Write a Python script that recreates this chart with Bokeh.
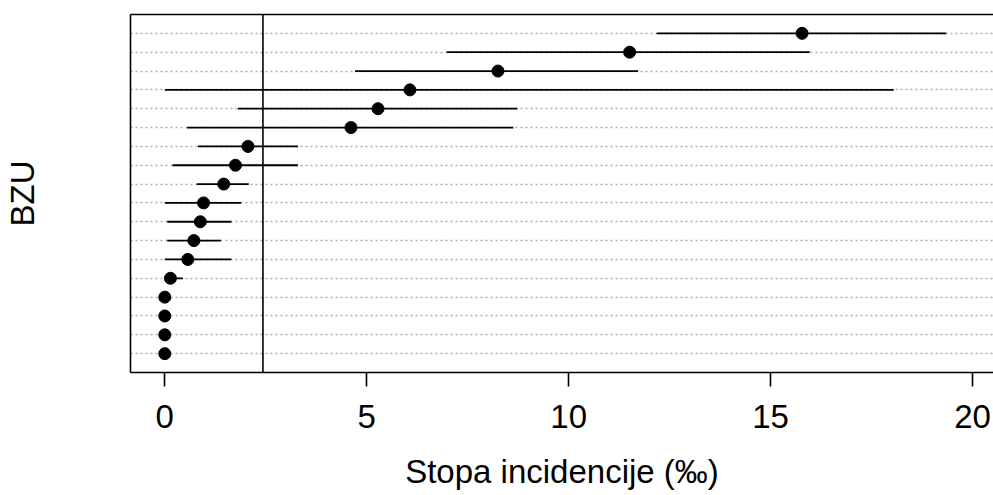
from bokeh.plotting import figure
from bokeh.models import Range1d, FixedTicker, LinearAxis, Span, ColumnDataSource
from bokeh.embed import file_html
from bokeh.resources import INLINE

# Incidence rate per BZU (per mille) with confidence limits, listed top to bottom
rate = [15.78, 11.51, 8.25, 6.07, 5.28, 4.61, 2.06, 1.75, 1.46,
        0.96, 0.88, 0.72, 0.57, 0.14, 0.0, 0.0, 0.0, 0.0]
ci_low = [12.18, 6.98, 4.71, 0.0, 1.81, 0.55, 0.82, 0.19, 0.79,
          0.0, 0.06, 0.06, 0.0, 0.0, 0.0, 0.0, 0.0, 0.0]
ci_high = [19.35, 15.97, 11.72, 18.05, 8.73, 8.63, 3.30, 3.30, 2.08,
           1.89, 1.65, 1.39, 1.65, 0.45, 0.0, 0.0, 0.0, 0.0]
overall_rate = 2.43
x_ticks = [0, 5, 10, 15, 20]

n = len(rate)
row_pos = [n - i for i in range(n)]

src = ColumnDataSource(dict(y=row_pos, rate=rate, lo=ci_low, hi=ci_high))

FONT = "Liberation Sans"
FS = "33px"

p = figure(width=993, height=495,
           x_range=Range1d(-0.849, 20.52), y_range=Range1d(0, n + 1),
           output_backend="svg", toolbar_location=None,
           min_border_left=130, min_border_right=0,
           min_border_top=14, min_border_bottom=123,
           x_axis_location=None, y_axis_location=None)
p.outline_line_color = None
p.background_fill_color = "white"
p.border_fill_color = "white"

# bottom axis (also the lower frame edge)
xa = LinearAxis(ticker=FixedTicker(ticks=x_ticks),
                axis_label="Stopa incidencije (‰)")
xa.axis_line_color = "black"
xa.axis_line_width = 1.6
xa.major_tick_out = 14
xa.major_tick_in = 0
xa.major_tick_line_width = 1.6
xa.minor_tick_out = 0
xa.minor_tick_in = 0
xa.major_label_standoff = 18
xa.major_label_text_font = FONT
xa.major_label_text_font_size = FS
xa.major_label_text_color = "black"
xa.axis_label_standoff = 22
xa.axis_label_text_font = FONT
xa.axis_label_text_font_size = FS
xa.axis_label_text_font_style = "normal"
xa.axis_label_text_color = "black"
p.add_layout(xa, "below")

# left axis: only the frame edge and the "BZU" title
ya = LinearAxis(ticker=FixedTicker(ticks=row_pos), axis_label="BZU")
ya.axis_line_color = "black"
ya.axis_line_width = 1.6
ya.major_tick_line_color = None
ya.minor_tick_line_color = None
ya.major_label_text_font_size = "0px"
ya.major_label_text_color = None
ya.axis_label_standoff = 84
ya.axis_label_text_font = FONT
ya.axis_label_text_font_size = FS
ya.axis_label_text_font_style = "normal"
ya.axis_label_text_color = "black"
p.add_layout(ya, "left")

# top frame edge
ta = LinearAxis(ticker=FixedTicker(ticks=[]))
ta.axis_line_color = "black"
ta.axis_line_width = 1.6
ta.major_tick_line_color = None
ta.minor_tick_line_color = None
ta.major_label_text_font_size = "0px"
p.add_layout(ta, "above")

# dotted row guides
p.xgrid.visible = False
p.ygrid.ticker = FixedTicker(ticks=row_pos)
p.ygrid.grid_line_color = "#aaaaaa"
p.ygrid.grid_line_dash = "2 3"
p.ygrid.grid_line_width = 1.4

# overall reference rate
p.add_layout(Span(location=overall_rate, dimension="height",
                  line_color="black", line_width=1.6))

# confidence intervals and point estimates
p.segment(x0="lo", y0="y", x1="hi", y1="y", source=src,
          line_color="black", line_width=1.8)
p.scatter(x="rate", y="y", source=src, size=12,
          fill_color="black", line_color="black")

open("out.html", "w").write(file_html(p, INLINE))
